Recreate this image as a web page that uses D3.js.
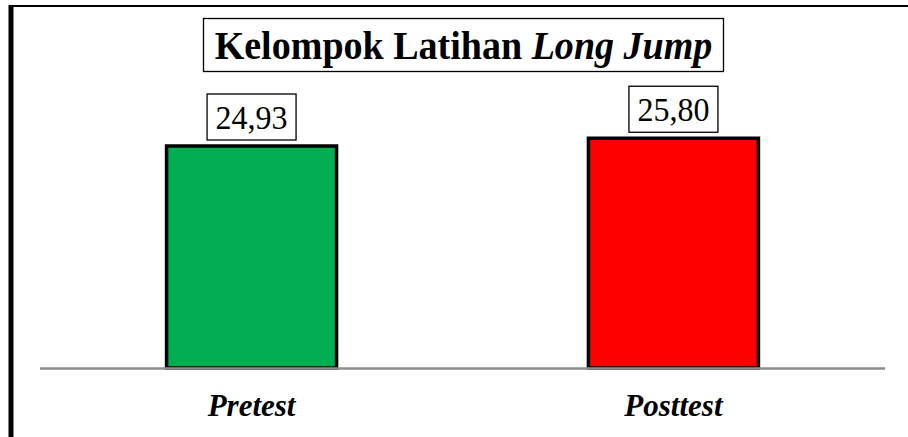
<!DOCTYPE html>
<html><head><meta charset="utf-8">
<script src="https://cdn.jsdelivr.net/npm/d3@7"></script>
<style>html,body{margin:0;padding:0;background:#fff;}svg{display:block;}
text{font-family:"Liberation Serif","Times New Roman",Times,serif;}</style>
</head><body>
<script>
const categories = ["Pretest", "Posttest"];
const values = [24.93, 25.80];
const valueLabels = ["24,93", "25,80"];
const colors = ["#00AD50", "#FF0000"];
const titleMain = "Kelompok Latihan ";
const titleItalic = "Long Jump";

const W = 908, H = 437;
const svg = d3.select("body").append("svg").attr("width", W).attr("height", H);

// frame
svg.append("line").attr("x1", 9).attr("x2", W).attr("y1", 6).attr("y2", 6)
  .attr("stroke", "#000").attr("stroke-width", 2);
svg.append("line").attr("x1", 11).attr("x2", 11).attr("y1", 5).attr("y2", H)
  .attr("stroke", "#000").attr("stroke-width", 5);

const x = d3.scaleBand().domain(categories).range([40, 885]).paddingInner(0.597).paddingOuter(0.30);
const y = d3.scaleLinear().domain([0, 24.93]).range([368, 146]);

// bars
svg.selectAll("rect.bar").data(values).enter().append("rect")
  .attr("class", "bar")
  .attr("x", (d, i) => x(categories[i]))
  .attr("y", d => y(d))
  .attr("width", x.bandwidth())
  .attr("height", d => y(0) - y(d))
  .attr("fill", (d, i) => colors[i])
  .attr("stroke", "#000").attr("stroke-width", 3.5);

// baseline axis
const axis = d3.axisBottom(x).tickSize(0).tickFormat("");
const ag = svg.append("g").attr("transform", `translate(0,${y(0) + 0.5})`).call(axis);
ag.select(".domain").attr("d", "M40,0H885").attr("stroke", "#8c8c8c").attr("stroke-width", 2.5);

// category labels
svg.selectAll("text.cat").data(categories).enter().append("text")
  .attr("class", "cat")
  .attr("x", d => x(d) + x.bandwidth() / 2)
  .attr("y", 416)
  .attr("text-anchor", "middle")
  .style("font-weight", "bold").style("font-style", "italic")
  .style("font-size", "31px")
  .text(d => d);

// value labels with boxes
values.forEach((v, i) => {
  const cx = x(categories[i]) + x.bandwidth() / 2;
  const g = svg.append("g");
  g.append("rect").attr("x", cx - 44.5).attr("y", y(v) - 52)
    .attr("width", 89).attr("height", 46)
    .attr("fill", "#fff").attr("stroke", "#000").attr("stroke-width", 1.3);
  g.append("text").attr("x", cx).attr("y", y(v) - 17)
    .attr("text-anchor", "middle").style("font-size", "33px")
    .attr("textLength", 72).attr("lengthAdjust", "spacingAndGlyphs")
    .text(valueLabels[i]);
});

// title
const tg = svg.append("g");
tg.append("rect").attr("x", 203.5).attr("y", 18.5).attr("width", 520).attr("height", 53)
  .attr("fill", "#fff").attr("stroke", "#000").attr("stroke-width", 1.3);
const tt = tg.append("text").attr("x", 0).attr("y", 0).attr("text-anchor", "middle")
  .style("font-weight", "bold").style("font-size", "40px");
tt.append("tspan").text(titleMain);
tt.append("tspan").style("font-style", "italic").text(titleItalic);
const nat = tt.node().getComputedTextLength();
const sx = 498 / nat;
tt.attr("transform", `translate(463.5,59) scale(${sx},1)`);
</script>
</body></html>
